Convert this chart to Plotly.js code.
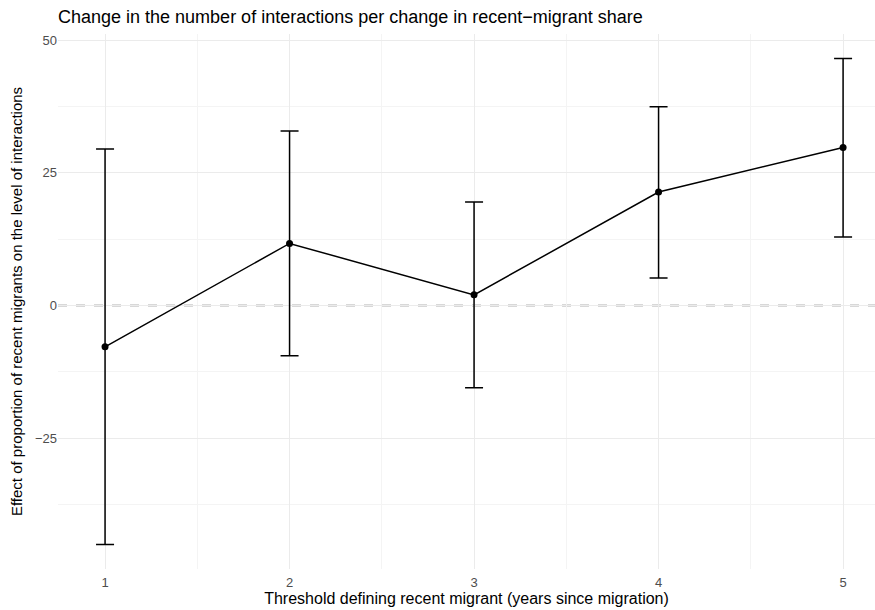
<!DOCTYPE html>
<html>
<head>
<meta charset="utf-8">
<script src="https://cdn.plot.ly/plotly-3.0.1.min.js"></script>
<style>html,body{margin:0;padding:0;background:#fff;overflow:hidden;}#chart{width:875px;height:610px;}</style>
</head>
<body>
<div id="chart"></div>
<script>
const thresholds = [1, 2, 3, 4, 5];
const estimate = [-7.8, 11.7, 2.0, 21.4, 29.8];
const upper = [29.5, 32.9, 19.5, 37.5, 46.6];
const lower = [-45.1, -9.5, -15.5, 5.2, 12.9];
const yTicks = [-25, 0, 25, 50];

const errPlus = upper.map((u, i) => u - estimate[i]);
const errMinus = estimate.map((e, i) => e - lower[i]);

const font = "'Liberation Sans', Arial, Helvetica, sans-serif";

const trace = {
  x: thresholds,
  y: estimate,
  type: 'scatter',
  mode: 'lines+markers',
  line: {color: '#000', width: 1.5},
  marker: {color: '#000', size: 7},
  error_y: {type: 'data', symmetric: false, array: errPlus, arrayminus: errMinus,
            color: '#000', thickness: 1.5, width: 9},
  hoverinfo: 'x+y',
  showlegend: false
};

const layout = {
  width: 875, height: 610,
  margin: {l: 58, r: 0, t: 34, b: 41},
  paper_bgcolor: '#fff', plot_bgcolor: '#fff',
  font: {family: font, color: '#000'},
  title: {text: 'Change in the number of interactions per change in recent\u2212migrant share',
          font: {size: 18, color: '#000', family: font},
          x: 0, xref: 'paper', xanchor: 'left', y: 0.973, yref: 'container', yanchor: 'middle'},
  xaxis: {
    range: [0.745, 5.173], tickvals: thresholds, ticktext: thresholds.map(String),
    showgrid: true, gridcolor: '#ebebeb', gridwidth: 1, zeroline: false, showline: false, ticks: '',
    minor: {dtick: 0.5, tick0: 0.5, showgrid: true, gridcolor: '#f4f4f4', gridwidth: 1},
    tickfont: {size: 13, color: '#4d4d4d'}, ticklabelstandoff: 4,
    title: {text: 'Threshold defining recent migrant (years since migration)', font: {size: 16, color: '#000'}, standoff: 3}
  },
  yaxis: {
    range: [-49.7, 51.2], tickvals: yTicks, ticktext: yTicks.map(v => v < 0 ? '\u2212' + Math.abs(v) : String(v)),
    showgrid: true, gridcolor: '#ebebeb', gridwidth: 1, zeroline: false, showline: false, ticks: '',
    minor: {dtick: 12.5, tick0: 12.5, showgrid: true, gridcolor: '#f4f4f4', gridwidth: 1},
    tickfont: {size: 13, color: '#4d4d4d'},
    title: {text: 'Effect of proportion of recent migrants on the level of interactions', font: {size: 15, color: '#000'}, standoff: 8}
  },
  shapes: [{type: 'line', xref: 'paper', x0: 0, x1: 1, yref: 'y', y0: 0, y1: 0,
            line: {color: '#666666', width: 1.3, dash: 'dash'}, layer: 'between'}]
};

Plotly.newPlot('chart', [trace], layout, {displayModeBar: false, staticPlot: true});
</script>
</body>
</html>
